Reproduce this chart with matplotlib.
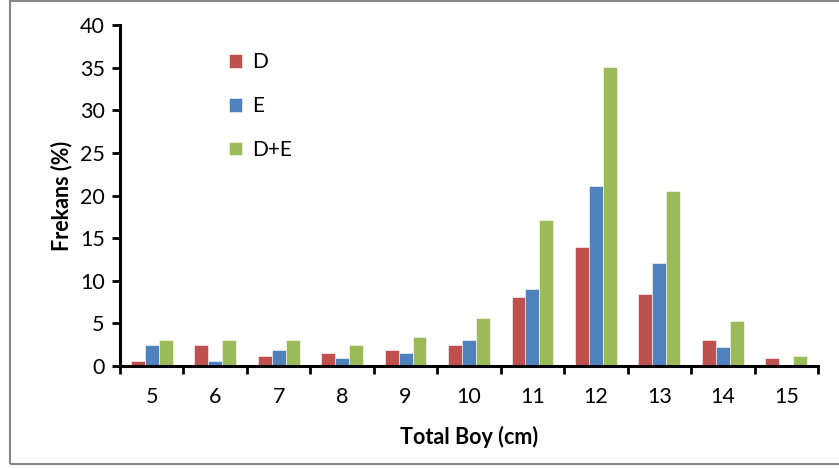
import numpy as np
import matplotlib.pyplot as plt
from matplotlib.patches import Rectangle

plt.rcParams['font.family'] = ['Lato', 'DejaVu Sans']

lengths = ['5', '6', '7', '8', '9', '10', '11', '12', '13', '14', '15']
d_vals = [0.6, 2.5, 1.2, 1.5, 1.9, 2.5, 8.1, 14.0, 8.4, 3.1, 0.9]
e_vals = [2.5, 0.6, 1.9, 0.9, 1.5, 3.1, 9.0, 21.1, 12.1, 2.2, 0.15]
de_vals = [3.1, 3.1, 3.1, 2.5, 3.4, 5.6, 17.1, 35.1, 20.5, 5.3, 1.2]

series = [('D', d_vals, '#C0504D'), ('E', e_vals, '#4F81BD'), ('D+E', de_vals, '#9BBB59')]

fig = plt.figure(figsize=(8.39, 4.68), dpi=100)
ax = fig.add_axes([120 / 839, 1 - 366 / 468, 698 / 839, 341 / 468])

x = np.arange(len(lengths))
w = 0.22
for i, (name, vals, col) in enumerate(series):
    ax.bar(x + (i - 1) * w, vals, w, color=col, edgecolor='white', linewidth=0.4, label=name)

ax.set_xlim(-0.5, len(lengths) - 0.5)
ax.set_ylim(0, 40)
ax.set_yticks(range(0, 41, 5))
ax.set_xticks(x)
ax.set_xticklabels(lengths)
ax.set_xticks(np.arange(-0.5, len(lengths)), minor=True)
ax.tick_params(axis='x', which='major', length=0, pad=15, labelsize=15.5)
ax.tick_params(axis='x', which='minor', length=6, width=2, direction='out')
ax.tick_params(axis='y', length=6, width=2, direction='out', labelsize=15.5, pad=5)

for s in ['top', 'right']:
    ax.spines[s].set_visible(False)
for s in ['left', 'bottom']:
    ax.spines[s].set_linewidth(2.2)

ax.set_xlabel('Total Boy (cm)', fontsize=15.5, fontweight='bold', labelpad=14)
ax.set_ylabel('Frekans (%)', fontsize=15.5, fontweight='bold', labelpad=5)

leg = ax.legend(loc='upper left', bbox_to_anchor=(0.13, 0.975), frameon=False,
                fontsize=15, handlelength=0.6, handleheight=0.6,
                labelspacing=1.15, handletextpad=0.5)

fig.patches.append(Rectangle((9.5 / 839, 4 / 468), 1.0, 1 - 5 / 468, transform=fig.transFigure,
                             fill=False, edgecolor='#868686', linewidth=1.5))

fig.savefig('out.png', dpi=100)
